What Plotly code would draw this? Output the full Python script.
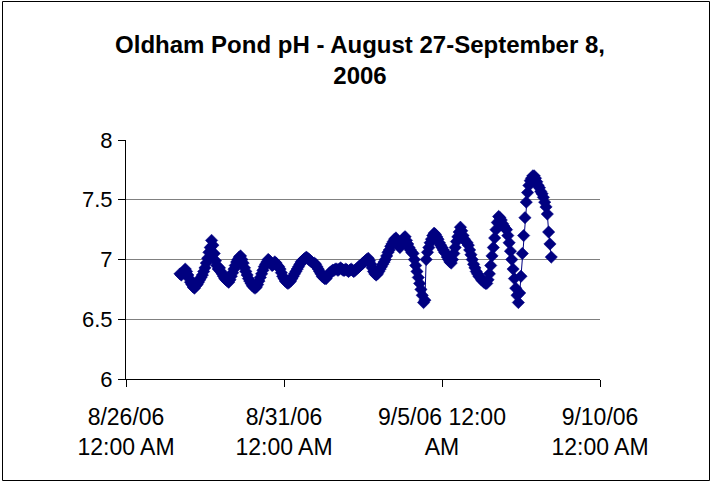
import plotly.graph_objects as go
import pandas as pd

# Hourly pH readings, starting Aug 27 2006 ~17:00
start_time = "2006-08-27 17:00"
ph_values = [
    6.88, 6.87, 6.89, 6.90, 6.92, 6.90, 6.87, 6.84, 6.81, 6.79, 6.77, 6.76, 6.78, 6.79, 6.81, 6.83, 6.85, 6.87, 6.90,
    6.93, 6.97, 7.01, 7.06, 7.10, 7.16, 7.12, 7.05, 6.99, 6.95, 6.92, 6.93, 6.90, 6.88, 6.86, 6.84, 6.83, 6.82, 6.81,
    6.83, 6.86, 6.89, 6.92, 6.95, 6.98, 7.00, 7.02, 7.03, 7.00, 6.97, 6.93, 6.90, 6.87, 6.84, 6.82, 6.80, 6.78, 6.77, 6.76, 6.77,
    6.79, 6.82, 6.85, 6.88, 6.91, 6.94, 6.96, 6.98, 7.00, 6.99, 6.97, 6.95, 6.96, 6.98, 6.97, 6.95, 6.94, 6.92, 6.89, 6.86, 6.84, 6.82, 6.81, 6.80,
    6.81, 6.82, 6.84, 6.86, 6.88, 6.90, 6.92, 6.94, 6.96, 6.98, 6.99, 7.00, 7.01, 7.02, 7.01, 7.00, 6.99, 6.98, 6.97, 6.97, 6.96, 6.94, 6.92, 6.90, 6.88, 6.86, 6.85, 6.84, 6.84,
    6.86, 6.88, 6.89, 6.90, 6.91, 6.91, 6.92, 6.92, 6.91, 6.92, 6.93, 6.92, 6.91, 6.91, 6.92, 6.91, 6.90, 6.91, 6.92, 6.91, 6.90, 6.91,
    6.92, 6.93, 6.94, 6.95, 6.96, 6.97, 6.98, 6.99, 7.00, 7.01, 6.99, 6.96, 6.93, 6.90, 6.88, 6.87,
    6.88, 6.90, 6.92, 6.94, 6.96, 6.98, 7.00, 7.03, 7.06, 7.08, 7.11, 7.13, 7.15, 7.17, 7.18, 7.15, 7.12, 7.10, 7.13, 7.16, 7.18, 7.19,
    7.16, 7.13, 7.10, 7.08, 7.06, 7.05, 7.00, 6.95, 6.90, 6.85, 6.80, 6.75, 6.70, 6.64, 6.66, 7.00,
    7.06, 7.10, 7.14, 7.17, 7.20, 7.22, 7.21, 7.19, 7.17, 7.14, 7.12, 7.10, 7.08, 7.06, 7.05, 7.02, 7.00, 6.98, 6.97,
    7.00, 7.05, 7.10, 7.15, 7.19, 7.23, 7.27, 7.24, 7.20, 7.17, 7.15, 7.14, 7.12, 7.08, 7.04, 7.00, 6.96, 6.93, 6.90,
    6.88, 6.86, 6.85, 6.83, 6.82, 6.81, 6.80, 6.80,
    6.83, 6.88, 6.95, 7.03, 7.10, 7.18, 7.25, 7.31, 7.36, 7.35, 7.33, 7.30, 7.28, 7.26, 7.25, 7.20, 7.14, 7.07, 7.00,
    6.92, 6.84, 6.76, 6.70, 6.64, 6.72, 6.86, 7.05, 7.20, 7.35, 7.48, 7.56, 7.62, 7.66, 7.68, 7.70, 7.70,
    7.68, 7.65, 7.62, 7.60, 7.57, 7.55, 7.52, 7.48, 7.44, 7.38, 7.23, 7.13, 7.02,
]
times = pd.date_range(start_time, periods=len(ph_values), freq="h")

x_range = ["2006-08-26", "2006-09-10"]
x_tick_dates = ["2006-08-26", "2006-08-31", "2006-09-05", "2006-09-10"]
x_tick_labels = ["8/26/06<br>12:00 AM", "8/31/06<br>12:00 AM", "9/5/06 12:00<br>AM", "9/10/06<br>12:00 AM"]
y_ticks = [6, 6.5, 7, 7.5, 8]
y_tick_labels = ["6", "6.5", "7", "7.5", "8"]

NAVY = "#000080"
FONT = "Liberation Sans, Arial, sans-serif"

fig = go.Figure(
    go.Scatter(
        x=times, y=ph_values, mode="lines+markers",
        line=dict(color=NAVY, width=1),
        marker=dict(symbol="diamond", size=9.5, color=NAVY, line=dict(width=0.5, color=NAVY)),
        showlegend=False,
    )
)

W, H = 712, 482
L, R, T, B = 126, 112, 140, 103
pw, ph_ = W - L - R, H - T - B

fig.update_layout(
    width=W, height=H,
    margin=dict(l=L, r=R, t=T, b=B),
    paper_bgcolor="white", plot_bgcolor="white",
    font=dict(family=FONT, color="black"),
    title=dict(
        text="<b>Oldham Pond pH - August 27-September 8,<br>2006</b>",
        font=dict(family=FONT, size=24, color="black"),
        x=360 / W, xanchor="center", y=1 - 53 / H, yanchor="middle",
    ),
    xaxis=dict(
        type="date", range=x_range,
        tickvals=x_tick_dates, ticktext=x_tick_labels,
        ticks="outside", ticklen=7, tickcolor="black", tickwidth=1,
        showline=True, linecolor="black", linewidth=1,
        showgrid=False, zeroline=False,
        tickfont=dict(family=FONT, size=23, color="black"),
        ticklabelstandoff=10,
    ),
    yaxis=dict(
        range=[6, 8], tickvals=y_ticks, ticktext=y_tick_labels,
        ticks="outside", ticklen=7, tickcolor="black", tickwidth=1,
        showline=True, linecolor="black", linewidth=1,
        showgrid=True, gridcolor="#808080", gridwidth=1, zeroline=False,
        tickfont=dict(family=FONT, size=22, color="black"),
        ticklabelstandoff=1,
    ),
    shapes=[
        dict(
            type="rect", xref="paper", yref="paper",
            x0=(2.5 - L) / pw, x1=(709.5 - L) / pw,
            y0=(H - B - 480.5) / ph_, y1=(H - B - 1.5) / ph_,
            line=dict(color="black", width=1), fillcolor="rgba(0,0,0,0)",
            layer="below",
        )
    ],
)

fig.write_html(
    "out.html",
    config={"displayModeBar": False},
    post_script="document.body.style.margin='0';document.body.style.overflow='hidden';",
)
